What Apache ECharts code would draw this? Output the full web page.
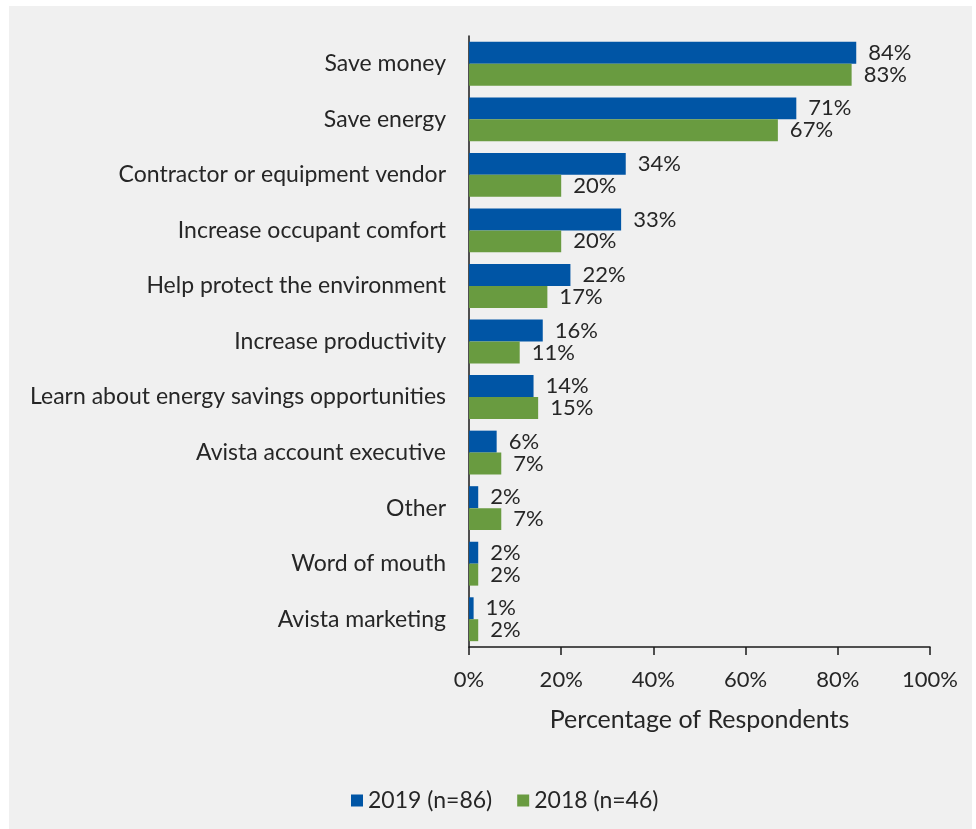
<!DOCTYPE html>
<html>
<head>
<meta charset="utf-8">
<script src="https://cdn.jsdelivr.net/npm/echarts@6/dist/echarts.min.js"></script>
<style>
  html, body { margin: 0; padding: 0; background: #ffffff; }
  #panel { position: absolute; left: 9px; top: 6px; width: 963px; height: 823px; background: #f0f0f0; }
  #chart { position: absolute; left: 0; top: 0; width: 976px; height: 829px; }
</style>
</head>
<body>
<div id="panel"></div>
<div id="chart"></div>
<script>
// Reasons for participating, share of respondents per survey year
const categories = [
  'Save money',
  'Save energy',
  'Contractor or equipment vendor',
  'Increase occupant comfort',
  'Help protect the environment',
  'Increase productivity',
  'Learn about energy savings opportunities',
  'Avista account executive',
  'Other',
  'Word of mouth',
  'Avista marketing'
];
const values2019 = [84, 71, 34, 33, 22, 16, 14, 6, 2, 2, 1];
const values2018 = [83, 67, 20, 20, 17, 11, 15, 7, 7, 2, 2];
const seriesNames = ['2019 (n=86)', '2018 (n=46)'];
const xTicks = [0, 20, 40, 60, 80, 100];

const FONT = 'Lato';
const TEXT = '#262626';

const chart = echarts.init(document.getElementById('chart'), null, { renderer: 'canvas' });

const labelStyle = {
  show: true,
  position: 'right',
  distance: 12,
  formatter: p => p.value + '%',
  color: TEXT,
  fontFamily: FONT,
  fontSize: 22
};

chart.setOption({
  backgroundColor: 'transparent',
  animation: false,
  textStyle: { fontFamily: FONT, color: TEXT },
  grid: { left: 469, right: 46, top: 36, bottom: 182, containLabel: false },
  legend: {
    data: seriesNames,
    left: 346,
    top: 784,
    itemWidth: 12,
    itemHeight: 12,
    itemGap: 25,
    icon: 'rect',
    textStyle: { fontFamily: FONT, fontSize: 23, color: TEXT }
  },
  xAxis: {
    type: 'value',
    min: xTicks[0],
    max: xTicks[xTicks.length - 1],
    interval: 20,
    name: 'Percentage of Respondents',
    nameLocation: 'middle',
    nameGap: 60,
    nameTextStyle: { fontFamily: FONT, fontSize: 25, color: TEXT },
    axisLine: { show: true, lineStyle: { color: '#1a1a1a', width: 1.5 } },
    axisTick: { show: true, length: 8, lineStyle: { color: '#1a1a1a', width: 1.5 } },
    axisLabel: { formatter: '{value}%', fontFamily: FONT, fontSize: 22, color: TEXT, margin: 22 },
    splitLine: { show: false }
  },
  yAxis: {
    type: 'category',
    data: categories,
    inverse: true,
    axisLine: { show: true, lineStyle: { color: '#1a1a1a', width: 1.5 } },
    axisTick: { show: false },
    axisLabel: { fontFamily: FONT, fontSize: 23, color: TEXT, margin: 23 }
  },
  series: [
    {
      name: seriesNames[0],
      type: 'bar',
      data: values2019,
      barGap: '0%',
      barCategoryGap: '21%',
      itemStyle: { color: '#0055a5' },
      label: labelStyle
    },
    {
      name: seriesNames[1],
      type: 'bar',
      data: values2018,
      itemStyle: { color: '#699b40' },
      label: labelStyle
    }
  ]
});
</script>
</body>
</html>
